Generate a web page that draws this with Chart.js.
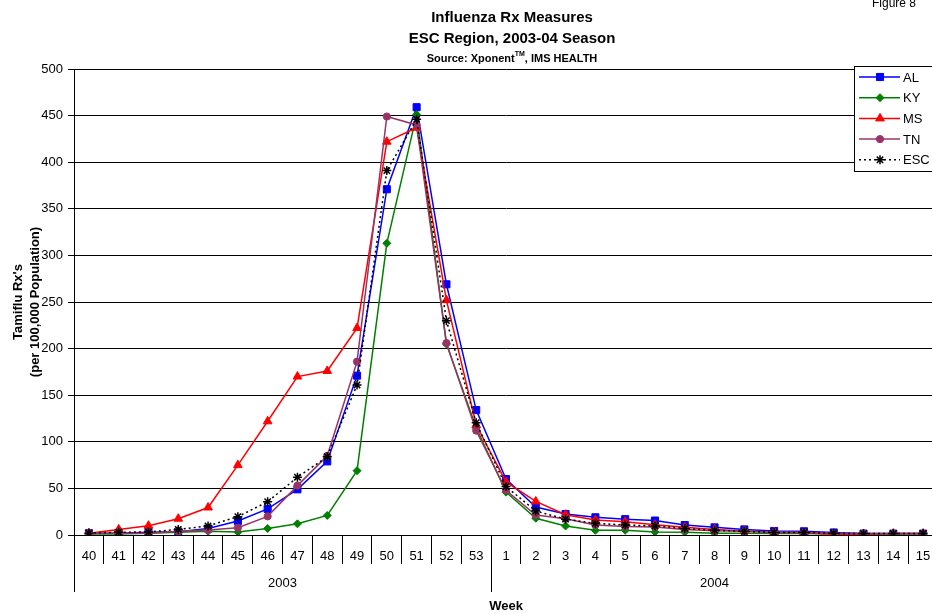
<!DOCTYPE html>
<html><head><meta charset="utf-8">
<script src="https://cdn.jsdelivr.net/npm/chart.js@4/dist/chart.umd.min.js"></script>
<style>
html,body{margin:0;padding:0;background:#fff;overflow:hidden;width:932px;height:614px}
#wrap{position:relative;width:945px;height:614px}
</style></head><body>
<div id="wrap"><canvas id="c" width="945" height="614"></canvas></div>
<script>
// ---- data ----
const weeks = ['40','41','42','43','44','45','46','47','48','49','50','51','52','53',
               '1','2','3','4','5','6','7','8','9','10','11','12','13','14','15'];
const years = ['2003','2004'];
const yearStarts = [0, 14];
const seriesNames = ['AL','KY','MS','TN','ESC'];
const AL  = [2,2,3,3.5,7,15,28,49,79,171,371,459,269,134,60,30,22.5,19,17,15.5,10.7,8.2,6,4.3,4,2.7,1.5,1.5,1.5];
const KY  = [1,1,2,3,4,3.2,7,12,21,69,313,451,205,115,46,18,9.7,5,5,3.3,3,2,1.8,1.5,1.5,1,1,1,1];
const MS  = [2,6,10,17.5,29.5,75,122,170,176,222,422,437,252,118,57,36,21.8,16,14.3,11,8.2,6,4.3,3,2.7,0.5,0.8,1.5,1.5];
const TN  = [2,2,2,4,5.4,7.8,20,53,85,186,449,440,206,112,48,21.5,17.5,10.7,9,8.6,6,4.6,4,2.7,2.6,1.8,1.5,1.5,1.5];
const ESC = [2,3,3.2,6,9.7,19.7,35.7,62,84,161,391,446,230,120.5,52,25.7,17,12.5,10.7,9.7,7,5,4,2.7,2.6,1.8,1.5,1.5,1.5];
const yTicks = {min:0, max:500, step:50};

const FONT = "'Liberation Sans', Arial, Helvetica, sans-serif";
const styles = {
  AL:  {color:'#0000FF', point:'rect',     r:5,   dash:[]},
  KY:  {color:'#008000', point:'rectRot',  r:4,   dash:[]},
  MS:  {color:'#FF0000', point:'triangle', r:5,   dash:[]},
  TN:  {color:'#993366', point:'circle',   r:3.6, dash:[]},
  ESC: {color:'#000000', point:'star',     r:4.5, dash:[2,3]}
};
const seriesData = {AL, KY, MS, TN, ESC};

const datasets = seriesNames.map((n, i) => {
  const s = styles[n];
  return {
    label: n, data: seriesData[n],
    borderColor: s.color, backgroundColor: s.color,
    borderWidth: 1.5, borderDash: s.dash,
    pointStyle: s.point, pointRadius: s.r, pointHoverRadius: s.r,
    pointBorderColor: s.color, pointBackgroundColor: s.color,
    pointBorderWidth: n === 'ESC' ? 1.5 : 1,
    tension: 0, fill: false,
    order: seriesNames.length - i
  };
});

function marker(ctx, style, x, y, r, color) {
  ctx.save();
  ctx.fillStyle = color; ctx.strokeStyle = color;
  ctx.lineWidth = style === 'star' ? 1.5 : 1;
  ctx.setLineDash([]);
  if (Chart.helpers && Chart.helpers.drawPoint) {
    Chart.helpers.drawPoint(ctx, {pointStyle: style, radius: r, rotation: 0, borderWidth: ctx.lineWidth}, x, y);
  } else {
    ctx.beginPath(); ctx.arc(x, y, r, 0, Math.PI*2); ctx.fill();
  }
  ctx.restore();
}

const extras = {
  id: 'extras',
  afterDraw(chart) {
    const ctx = chart.ctx;
    const ca = chart.chartArea;
    const xs = chart.scales.x;
    ctx.save();
    ctx.fillStyle = '#000';
    ctx.textAlign = 'center';
    ctx.textBaseline = 'middle';
    const cx = (ca.left + ca.right) / 2 + 6;
    // titles
    ctx.font = 'bold 15px ' + FONT;
    ctx.fillText('Influenza Rx Measures', cx, 18);
    ctx.fillText('ESC Region, 2003-04 Season', cx, 39);
    // source line with superscript TM
    const p1 = 'Source: Xponent', p2 = 'TM', p3 = ', IMS HEALTH';
    ctx.font = 'bold 11px ' + FONT; const w1 = ctx.measureText(p1).width, w3 = ctx.measureText(p3).width;
    ctx.font = 'bold 7px ' + FONT; const w2 = ctx.measureText(p2).width;
    let sx = cx - (w1 + w2 + w3) / 2;
    ctx.textAlign = 'left';
    ctx.font = 'bold 11px ' + FONT; ctx.fillText(p1, sx, 59);
    ctx.font = 'bold 7px ' + FONT; ctx.fillText(p2, sx + w1, 54);
    ctx.font = 'bold 11px ' + FONT; ctx.fillText(p3, sx + w1 + w2, 59);
    // Figure 8
    ctx.textAlign = 'center';
    ctx.font = '12px ' + FONT;
    ctx.fillText('Figure 8', 894, 4);
    // y axis title
    ctx.save();
    ctx.translate(18, (ca.top + ca.bottom) / 2);
    ctx.rotate(-Math.PI / 2);
    ctx.font = 'bold 13px ' + FONT;
    ctx.fillText("Tamiflu Rx's", 0, 0);
    ctx.fillText('(per 100,000 Population)', 0, 17);
    ctx.restore();
    // year separators + labels
    const half = (xs.getPixelForValue(1) - xs.getPixelForValue(0)) / 2;
    const bounds = yearStarts.map(i => xs.getPixelForValue(i) - half);
    bounds.push(xs.getPixelForValue(weeks.length - 1) + half);
    ctx.strokeStyle = '#000'; ctx.lineWidth = 1;
    bounds.forEach(b => {
      const bx = Math.round(b) + 0.5;
      ctx.beginPath(); ctx.moveTo(bx, ca.bottom); ctx.lineTo(bx, 592); ctx.stroke();
    });
    ctx.font = '13px ' + FONT;
    years.forEach((y, i) => ctx.fillText(y, (bounds[i] + bounds[i+1]) / 2, 583));
    ctx.font = 'bold 13px ' + FONT;
    ctx.fillText('Week', (ca.left + ca.right) / 2, 606);
    // legend
    const lx = 854, ly = 66, lh = 105;
    ctx.fillStyle = '#fff';
    ctx.fillRect(lx, ly, 100, lh);
    ctx.strokeStyle = '#000';
    ctx.strokeRect(lx + 0.5, ly + 0.5, 100, lh);
    ctx.textAlign = 'left';
    ctx.font = '13px ' + FONT;
    seriesNames.forEach((n, i) => {
      const s = styles[n];
      const yy = 77 + i * 20.7;
      ctx.save();
      ctx.strokeStyle = s.color; ctx.lineWidth = 1.5; ctx.setLineDash(s.dash);
      ctx.beginPath(); ctx.moveTo(859, yy); ctx.lineTo(900, yy); ctx.stroke();
      ctx.restore();
      marker(ctx, s.point, 880, yy, s.r, s.color);
      ctx.fillStyle = '#000';
      ctx.fillText(n, 903, yy + 1);
    });
    ctx.restore();
  }
};

new Chart(document.getElementById('c'), {
  type: 'line',
  data: { labels: weeks, datasets },
  options: {
    responsive: false, animation: false, devicePixelRatio: 1,
    layout: { padding: { left: 0, top: 69, right: 7, bottom: 0 } },
    plugins: { legend: { display: false }, tooltip: { enabled: false }, title: { display: false } },
    scales: {
      x: {
        type: 'category', offset: true,
        grid: { offset: true, drawOnChartArea: false, drawTicks: true, tickLength: 29, color: '#000', lineWidth: 1 },
        border: { display: true, color: '#000', width: 1 },
        ticks: { font: { family: FONT, size: 13 }, color: '#000', padding: -15, maxRotation: 0, autoSkip: false },
        afterFit: s => { s.height = 79; }
      },
      y: {
        min: yTicks.min, max: yTicks.max,
        ticks: { stepSize: yTicks.step, font: { family: FONT, size: 13 }, color: '#000', padding: 5 },
        grid: { color: '#000', lineWidth: 1, tickLength: 6, drawTicks: true },
        border: { display: true, color: '#000', width: 1 },
        afterFit: s => { s.width = 74; }
      }
    }
  },
  plugins: [extras]
});
</script>
</body></html>
